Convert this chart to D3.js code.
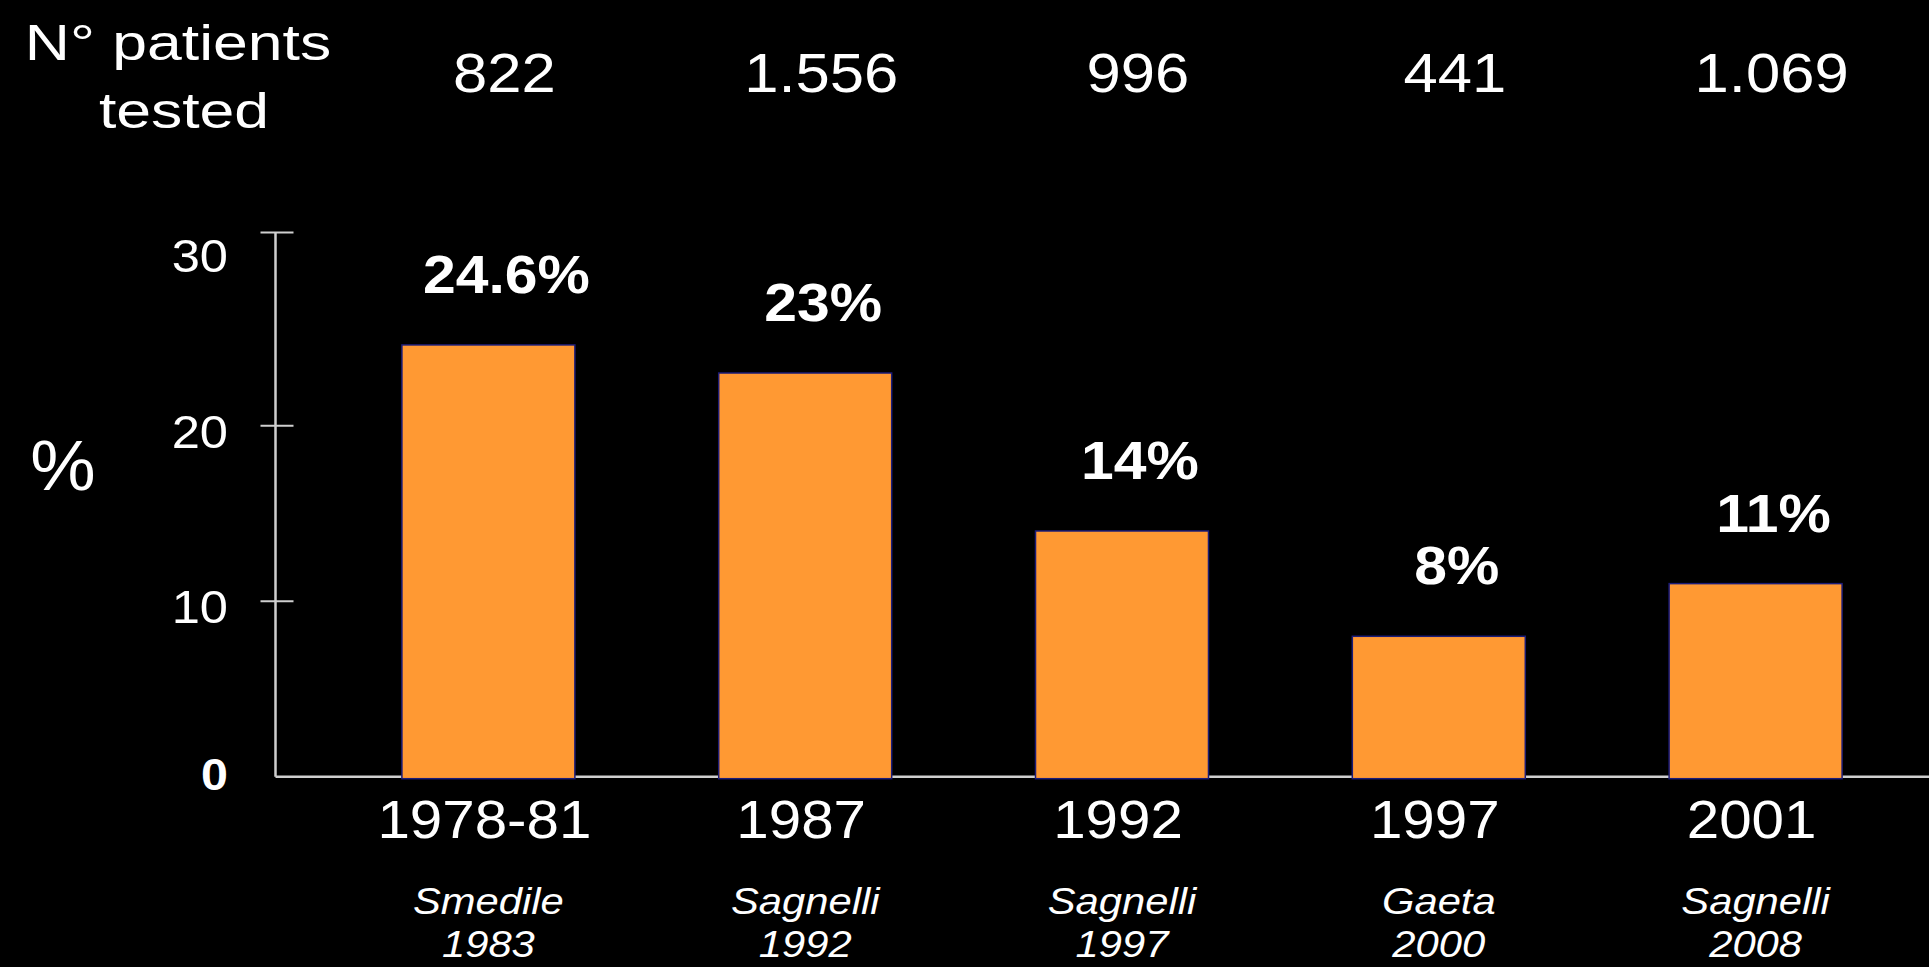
<!DOCTYPE html>
<html>
<head>
<meta charset="utf-8">
<script src="https://cdn.jsdelivr.net/npm/d3@7"></script>
<style>
  html, body { margin: 0; padding: 0; background: #000; overflow: hidden; }
  svg { display: block; }
  text { font-family: "Liberation Sans", Arial, Helvetica, sans-serif; fill: #fff; }
</style>
</head>
<body>
<svg id="chart" width="1929" height="967"></svg>
<script>
// Prevalence (%) by study period
const periods = ["1978-81", "1987", "1992", "1997", "2001"];
const prevalence = [24.6, 23, 14, 8, 11];
const patientsTested = [822, 1556, 996, 441, 1069];
const authors = ["Smedile", "Sagnelli", "Sagnelli", "Gaeta", "Sagnelli"];
const pubYears = ["1983", "1992", "1997", "2000", "2008"];
const yTickValues = [0, 10, 20, 30];
const yAxisTop = 31;

const W = 1929, H = 967;
const svg = d3.select("#chart");

const itFormat = d3.formatLocale({ decimal: ",", thousands: ".", grouping: [3], currency: ["", ""] }).format(",d");

const x = d3.scaleBand()
  .domain(periods)
  .range([330, 1914])
  .paddingInner(0.454)
  .paddingOuter(0.227);

const y = d3.scaleLinear()
  .domain([0, yAxisTop])
  .range([776.7, 232.6]);

const axisX = 275.5;
const axisColor = "#cfcfcf";

// horizontally stretched text placed at d.tx, d.ty
function stretchedText(sel, sx) {
  return sel.attr("transform", d => `translate(${d.tx},${d.ty}) scale(${sx},1)`);
}

// Header: number of patients tested
const header = svg.append("g");
header.append("text")
  .attr("transform", "translate(178,60) scale(1.25,1)")
  .attr("text-anchor", "middle")
  .attr("font-size", 50)
  .text("N° patients");
header.append("text")
  .attr("transform", "translate(184,128) scale(1.25,1)")
  .attr("text-anchor", "middle")
  .attr("font-size", 50)
  .text("tested");

svg.append("g").selectAll("text")
  .data(periods.map((p, i) => ({ p, n: patientsTested[i] })))
  .join("text")
  .each(function (d) { d.tx = x(d.p) + x.bandwidth() / 2 + 16; d.ty = 92; })
  .call(stretchedText, 1.12)
  .attr("text-anchor", "middle")
  .attr("font-size", 55)
  .text(d => itFormat(d.n));

// Y axis: line, crossing tick marks and end cap
const yAxisG = svg.append("g").attr("transform", `translate(${axisX},0)`);
yAxisG.append("line")
  .attr("x1", 0).attr("x2", 0)
  .attr("y1", y(0)).attr("y2", y(yAxisTop))
  .attr("stroke", axisColor).attr("stroke-width", 2.5);
yAxisG.selectAll("line.tick")
  .data([10, 20, yAxisTop])
  .join("line")
  .attr("class", "tick")
  .attr("x1", -15).attr("x2", 18)
  .attr("y1", d => y(d)).attr("y2", d => y(d))
  .attr("stroke", axisColor).attr("stroke-width", 2);

svg.append("g").selectAll("text")
  .data(yTickValues.map(v => ({ v })))
  .join("text")
  .each(function (d) { d.tx = 228; d.ty = y(d.v) + (d.v === 0 ? 13 : 22); })
  .call(stretchedText, 1.1)
  .attr("text-anchor", "end")
  .attr("font-size", d => d.v === 0 ? 44 : 46)
  .attr("font-weight", d => d.v === 0 ? "bold" : "normal")
  .text(d => d.v);

svg.append("text")
  .attr("transform", "translate(63,490) scale(1.05,1)")
  .attr("text-anchor", "middle")
  .attr("font-size", 70)
  .text("%");

// X axis baseline
svg.append("line")
  .attr("x1", axisX).attr("x2", W)
  .attr("y1", y(0)).attr("y2", y(0))
  .attr("stroke", axisColor).attr("stroke-width", 2.5);

// Bars
svg.append("g").selectAll("rect")
  .data(periods.map((p, i) => ({ p, v: prevalence[i] })))
  .join("rect")
  .attr("x", d => x(d.p))
  .attr("width", x.bandwidth())
  .attr("y", d => y(d.v))
  .attr("height", d => y(0) - y(d.v) + 2)
  .attr("fill", "#ff9933")
  .attr("stroke", "#1c1c78")
  .attr("stroke-width", 1.5);

// Value labels
svg.append("g").selectAll("text")
  .data(periods.map((p, i) => ({ p, v: prevalence[i] })))
  .join("text")
  .each(function (d) { d.tx = x(d.p) + x.bandwidth() / 2 + 18; d.ty = y(d.v) - 52; })
  .call(stretchedText, 1.09)
  .attr("text-anchor", "middle")
  .attr("font-size", 54)
  .attr("font-weight", "bold")
  .text(d => `${d.v}%`);

// Category labels
svg.append("g").selectAll("text")
  .data(periods.map(p => ({ p })))
  .join("text")
  .each(function (d) { d.tx = x(d.p) + x.bandwidth() / 2 - 4; d.ty = 838; })
  .call(stretchedText, 1.08)
  .attr("text-anchor", "middle")
  .attr("font-size", 54)
  .text(d => d.p);

// Source references
const refs = svg.append("g").selectAll("g")
  .data(periods.map((p, i) => ({ p, a: authors[i], yr: pubYears[i] })))
  .join("g");
refs.append("text")
  .each(function (d) { d.tx = x(d.p) + x.bandwidth() / 2; d.ty = 914; })
  .call(stretchedText, 1.16)
  .attr("text-anchor", "middle")
  .attr("font-size", 36)
  .attr("font-style", "italic")
  .text(d => d.a);
refs.append("text")
  .each(function (d) { d.tx = x(d.p) + x.bandwidth() / 2; d.ty = 957; })
  .call(stretchedText, 1.16)
  .attr("text-anchor", "middle")
  .attr("font-size", 36)
  .attr("font-style", "italic")
  .text(d => d.yr);
</script>
</body>
</html>
